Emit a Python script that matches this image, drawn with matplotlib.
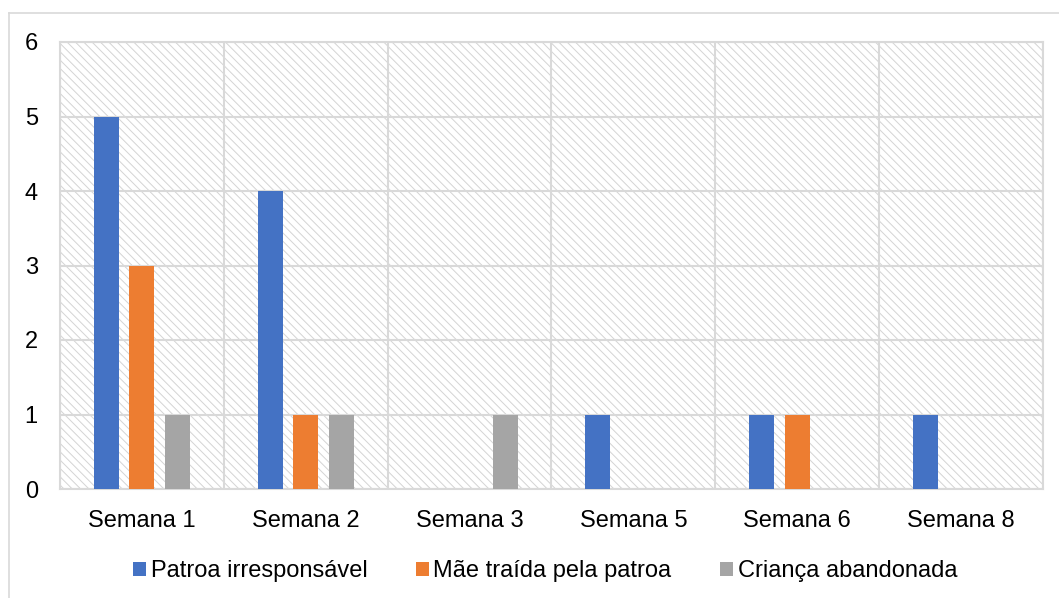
import matplotlib.pyplot as plt
import numpy as np
from matplotlib.patches import Rectangle

plt.rcParams['font.family'] = ['Liberation Sans', 'DejaVu Sans']
plt.rcParams['hatch.linewidth'] = 0.7
plt.rcParams['hatch.color'] = '#d4d4d4'

semanas = ['Semana 1', 'Semana 2', 'Semana 3', 'Semana 5', 'Semana 6', 'Semana 8']
patroa = [5, 4, 0, 1, 1, 1]
mae = [3, 1, 0, 0, 1, 0]
crianca = [1, 1, 1, 0, 0, 0]

series = [
    ('Patroa irresponsável', patroa, '#4472c4'),
    ('Mãe traída pela patroa', mae, '#ed7d31'),
    ('Criança abandonada', crianca, '#a5a5a5'),
]

fig = plt.figure(figsize=(10.59, 5.98), dpi=100)
ax = fig.add_axes([60 / 1059, 1 - 489 / 598, 983 / 1059, 447 / 598])

# outer chart border (only top and left visible)
fig.add_artist(plt.Line2D([9 / 1059, 1], [1 - 13 / 598, 1 - 13 / 598],
                          color='#d9d9d9', lw=1.2, transform=fig.transFigure))
fig.add_artist(plt.Line2D([9 / 1059, 9 / 1059], [0, 1 - 13 / 598],
                          color='#d9d9d9', lw=1.2, transform=fig.transFigure))

# hatched plot background
ax.add_patch(Rectangle((0, 0), 1, 1, transform=ax.transAxes, facecolor='white',
                       hatch='\\\\\\\\', edgecolor='#d4d4d4', lw=0, zorder=0))

x = np.arange(len(semanas))
w = 0.153
step = 0.217
for i, (name, vals, col) in enumerate(series):
    ax.bar(x + (i - 1) * step, vals, w, color=col, label=name, zorder=3)

ax.set_xlim(-0.5, len(semanas) - 0.5)
ax.set_ylim(0, 6)
ax.set_yticks(range(7))
ax.set_xticks(x)
ax.set_xticklabels(semanas)
ax.set_xticks(np.arange(-0.5, len(semanas)), minor=True)
ax.grid(True, which='major', axis='y', color='#d9d9d9', lw=1.5, zorder=1)
ax.grid(True, which='minor', axis='x', color='#d9d9d9', lw=1.5, zorder=1)
ax.tick_params(which='both', length=0, labelsize=17)
ax.tick_params(axis='x', pad=15)
ax.tick_params(axis='y', pad=16)
for s in ax.spines.values():
    s.set_color('#d9d9d9')
    s.set_linewidth(1.5)

fig.legend(loc='center', bbox_to_anchor=(545 / 1059, 1 - 571 / 598), ncol=3, frameon=False,
           fontsize=17, handlelength=0.55, handleheight=0.55, handletextpad=0.2,
           columnspacing=2.05)

fig.savefig('out.png', dpi=100)
